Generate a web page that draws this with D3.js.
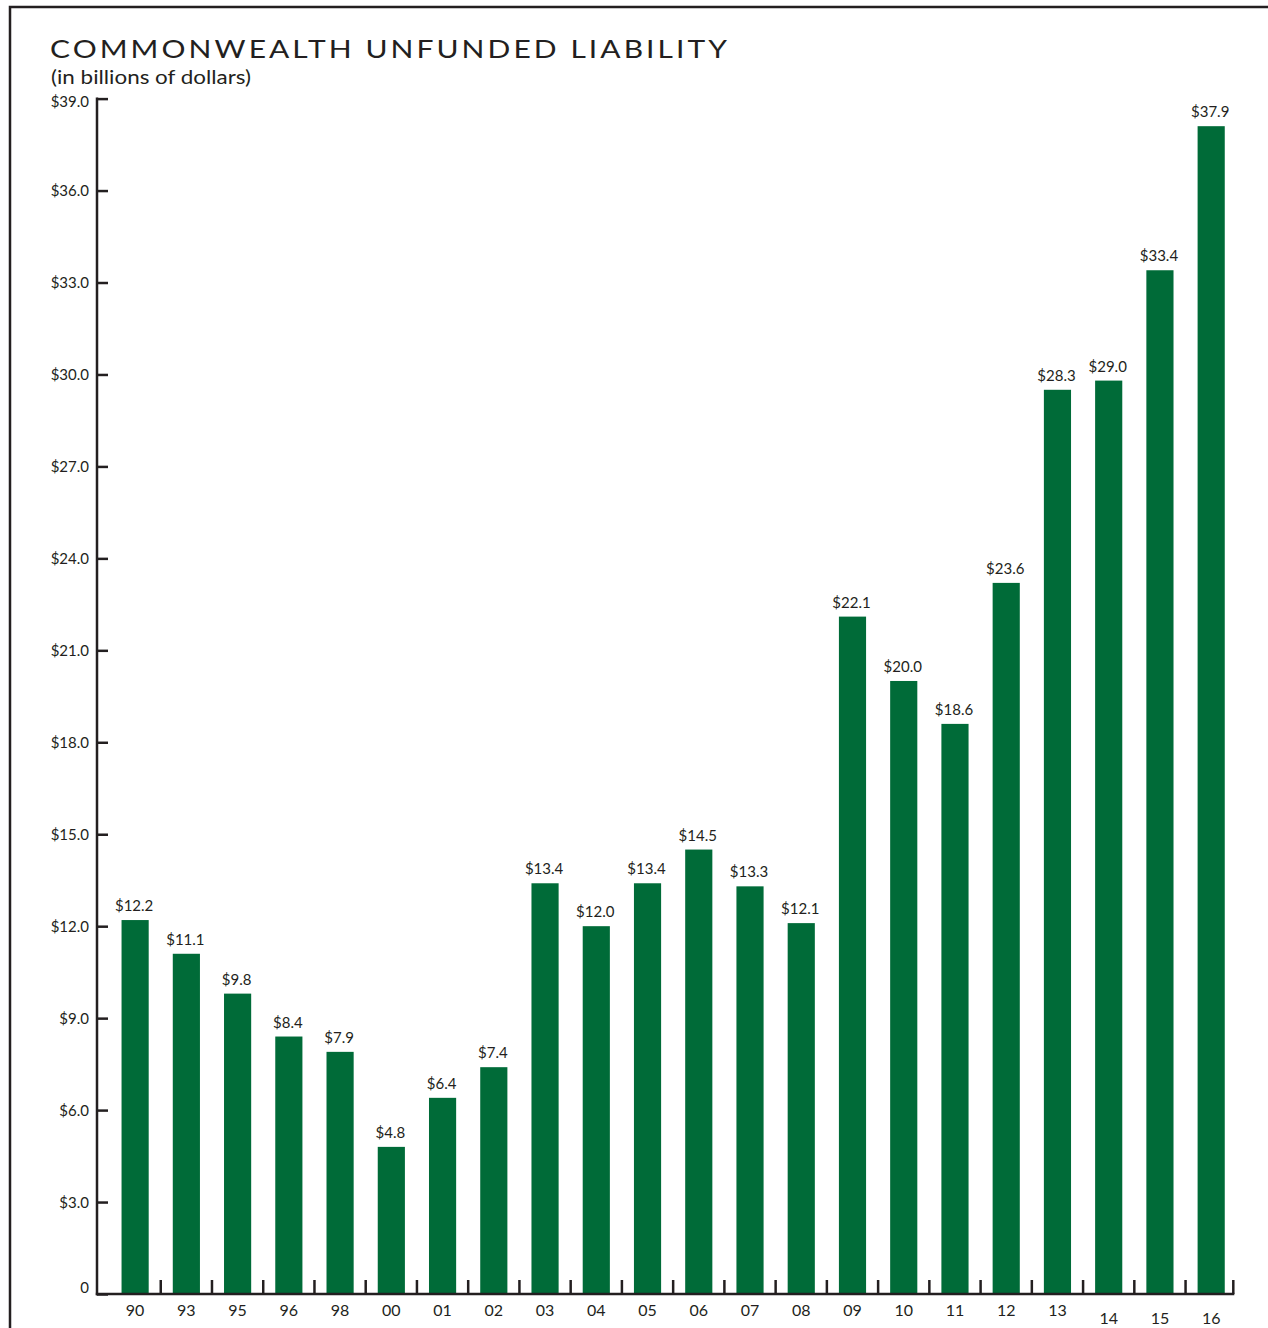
<!DOCTYPE html>
<html>
<head>
<meta charset="utf-8">
<script src="https://cdn.jsdelivr.net/npm/d3@7/dist/d3.min.js"></script>
<style>
  html, body { margin: 0; padding: 0; background: #fff; }
  svg { display: block; }
  text { font-family: Lato, "Open Sans", sans-serif; fill: #231f20; }
</style>
</head>
<body>
<svg id="chart" width="1268" height="1328"></svg>
<script>
// Fiscal years (x categories)
const categories = ["90","93","95","96","98","00","01","02","03","04","05","06","07","08","09","10","11","12","13","14","15","16"];
// Printed value labels (billions of dollars)
const labelValues = [12.2, 11.1, 9.8, 8.4, 7.9, 4.8, 6.4, 7.4, 13.4, 12.0, 13.4, 14.5, 13.3, 12.1, 22.1, 20.0, 18.6, 23.6, 28.3, 29.0, 33.4, 37.9];
// Bar heights as drawn in the picture (billions of dollars)
const barValues = [12.2, 11.1, 9.8, 8.4, 7.9, 4.8, 6.4, 7.4, 13.4, 12.0, 13.4, 14.5, 13.3, 12.1, 22.1, 20.0, 18.6, 23.2, 29.5, 29.8, 33.4, 38.1];
// Y tick values
const yTicks = [0, 3, 6, 9, 12, 15, 18, 21, 24, 27, 30, 33, 36, 39];
// Categories whose axis label sits on a lower line
const lowLabels = ["14", "15", "16"];

const title = "COMMONWEALTH UNFUNDED LIABILITY";
const subtitle = "(in billions of dollars)";

const ink = "#231f20";
const green = "#006b38";

const svg = d3.select("#chart");

// frame
svg.append("path")
  .attr("d", "M10,1330V7H1270")
  .attr("fill", "none").attr("stroke", ink).attr("stroke-width", 2.5);

// titles
svg.append("text").attr("x", 50).attr("y", 58)
  .attr("font-size", 24.5).attr("letter-spacing", 2.5)
  .attr("textLength", 680).attr("lengthAdjust", "spacingAndGlyphs")
  .text(title);
svg.append("text").attr("x", 51).attr("y", 84)
  .attr("font-size", 19.5).attr("textLength", 200).attr("lengthAdjust", "spacingAndGlyphs")
  .text(subtitle);

const x0 = 97, xEnd = 1234.3, y0 = 1294;
const x = d3.scaleBand().domain(categories).range([109.5, 1236.8])
  .paddingInner(0.47).paddingOuter(0.235);
const y = d3.scaleLinear().domain([0, 39]).range([y0, 98.6]);

// bars
svg.append("g").selectAll("rect").data(categories).join("rect")
  .attr("x", d => x(d))
  .attr("width", x.bandwidth())
  .attr("y", (d, i) => y(barValues[i]))
  .attr("height", (d, i) => y0 - y(barValues[i]))
  .attr("fill", green);

// value labels
const fmt = d3.format("$.1f");
svg.append("g").selectAll("text").data(categories).join("text")
  .attr("x", d => x(d) + x.bandwidth() / 2 - 1)
  .attr("y", (d, i) => y(barValues[i]) - 9)
  .attr("text-anchor", "middle")
  .attr("font-size", 15)
  .text((d, i) => fmt(labelValues[i]));

// y axis
const yAxis = d3.axisLeft(y).tickValues(yTicks)
  .tickSizeInner(-11).tickSizeOuter(0).tickPadding(8)
  .tickFormat(d => d === 0 ? "0" : fmt(d));
const gy = svg.append("g").attr("transform", `translate(${x0},0)`).call(yAxis);
gy.select(".domain").attr("stroke", ink).attr("stroke-width", 2.5)
  .attr("d", `M0,${y(39) - 1.2}V${y0 + 1.2}`);
gy.selectAll(".tick line").attr("stroke", ink).attr("stroke-width", 2.5);
gy.selectAll(".tick text").attr("font-size", 15).attr("fill", ink)
  .style("font-family", "Lato, 'Open Sans', sans-serif")
  .attr("dy", d => d === 0 ? "-0.1em" : (d === 39 ? "0.55em" : "0.35em"));

// x axis
const xAxis = d3.axisBottom(x).tickSize(0).tickPadding(0);
const gx = svg.append("g").attr("transform", `translate(0,${y0})`).call(xAxis);
gx.select(".domain").attr("stroke", ink).attr("stroke-width", 2.5)
  .attr("d", `M${x0 - 1.2},0H${xEnd}`);
gx.selectAll(".tick text").attr("font-size", 16).attr("fill", ink)
  .style("font-family", "Lato, 'Open Sans', sans-serif")
  .attr("dy", null)
  .attr("y", d => lowLabels.includes(d) ? 30 : 22);
// separator ticks after each band
const step = x.step();
svg.append("g").selectAll("line").data(categories).join("line")
  .attr("x1", d => Math.min(x(d) + x.bandwidth() / 2 + step / 2, xEnd - 1))
  .attr("x2", d => Math.min(x(d) + x.bandwidth() / 2 + step / 2, xEnd - 1))
  .attr("y1", y0).attr("y2", y0 - 14)
  .attr("stroke", ink).attr("stroke-width", 2.5);
</script>
</body>
</html>
